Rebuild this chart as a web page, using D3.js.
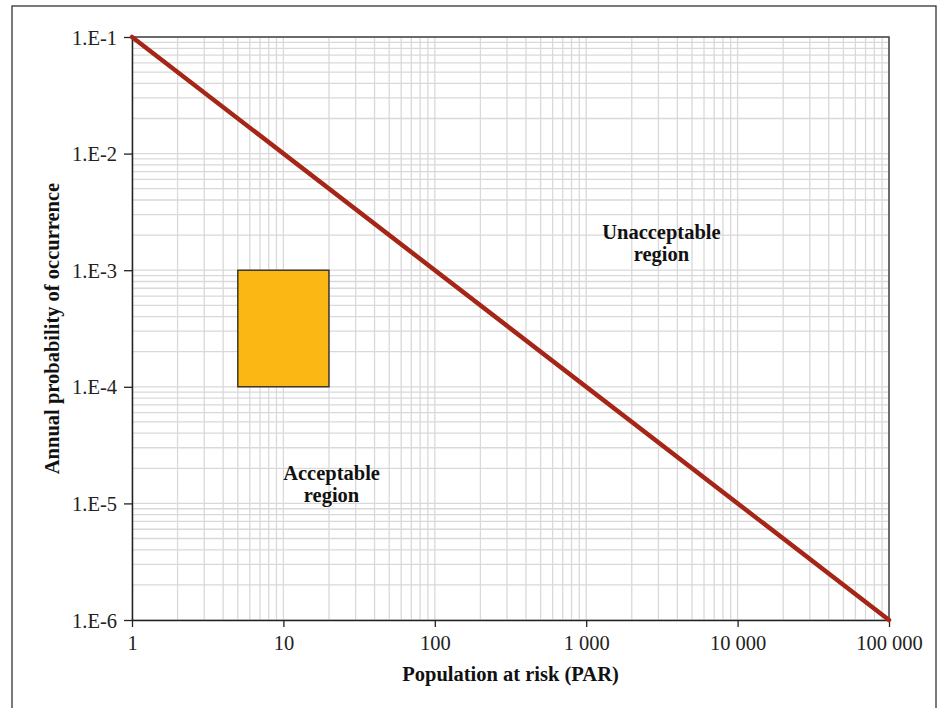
<!DOCTYPE html>
<html>
<head>
<meta charset="utf-8">
<script src="https://cdn.jsdelivr.net/npm/d3@7"></script>
<style>
  body { margin: 0; background: #fff; }
  svg { display: block; font-family: "Liberation Serif", "Times New Roman", serif; }
</style>
</head>
<body>
<svg id="chart" width="940" height="708"></svg>
<script>
// Tolerability criterion line: annual probability vs population at risk
const limitPAR = [1, 100000];
const limitProb = [1e-1, 1e-6];

// Shaded box (PAR range × probability range)
const boxPAR = [5, 20];
const boxProb = [1e-4, 1e-3];

const xTickValues = [1, 10, 100, 1000, 10000, 100000];
const xTickLabels = ["1", "10", "100", "1 000", "10 000", "100 000"];
const yTickValues = [1e-1, 1e-2, 1e-3, 1e-4, 1e-5, 1e-6];
const yTickLabels = ["1.E-1", "1.E-2", "1.E-3", "1.E-4", "1.E-5", "1.E-6"];

const regionLabels = [
  { lines: ["Unacceptable", "region"], par: 3140, prob: 1.85e-3 },
  { lines: ["Acceptable", "region"], par: 20.8, prob: 1.59e-5 }
];

const svg = d3.select("#chart");
const margin = { left: 132, right: 51, top: 37, bottom: 88 };
const W = 940, H = 708;
const x = d3.scaleLog().domain([1, 100000]).range([margin.left, W - margin.right]);
const y = d3.scaleLog().domain([1e-6, 1e-1]).range([H - margin.bottom, margin.top]);

// outer frame
svg.append("rect")
  .attr("x", 12).attr("y", 6).attr("width", 924).attr("height", 720)
  .attr("fill", "none").attr("stroke", "#333").attr("stroke-width", 1.3);

// minor + major grid
const gridX = [];
for (let e = 0; e < 5; e++) for (let k = 1; k <= 9; k++) gridX.push(k * Math.pow(10, e));
gridX.push(100000);
const gridY = [];
for (let e = -6; e < -1; e++) for (let k = 1; k <= 9; k++) gridY.push(k * Math.pow(10, e));
gridY.push(1e-1);

const grid = svg.append("g").attr("stroke", "#d9d9d9").attr("stroke-width", 1.3);
grid.selectAll("line.gx").data(gridX).join("line").attr("class", "gx")
  .attr("x1", d => x(d)).attr("x2", d => x(d))
  .attr("y1", y(1e-6)).attr("y2", y(1e-1));
grid.selectAll("line.gy").data(gridY).join("line").attr("class", "gy")
  .attr("y1", d => y(d)).attr("y2", d => y(d))
  .attr("x1", x(1)).attr("x2", x(100000));

// plot border (top/right)
svg.append("path")
  .attr("d", `M${x(1)},${y(1e-1)}H${x(100000)}V${y(1e-6)}`)
  .attr("fill", "none").attr("stroke", "#444").attr("stroke-width", 1.5);

// shaded box
svg.append("rect")
  .attr("x", x(boxPAR[0])).attr("y", y(boxProb[1]))
  .attr("width", x(boxPAR[1]) - x(boxPAR[0]))
  .attr("height", y(boxProb[0]) - y(boxProb[1]))
  .attr("fill", "#fbb714").attr("stroke", "#222").attr("stroke-width", 1.3);

// axes
const xAxis = d3.axisBottom(x).tickValues(xTickValues)
  .tickFormat((d, i) => xTickLabels[i]).tickSize(7).tickSizeOuter(0).tickPadding(8);
const yAxis = d3.axisLeft(y).tickValues(yTickValues)
  .tickFormat((d, i) => yTickLabels[i]).tickSize(8).tickSizeOuter(0).tickPadding(7);

const gx = svg.append("g").attr("transform", `translate(0,${y(1e-6)})`).call(xAxis);
const gy = svg.append("g").attr("transform", `translate(${x(1)},0)`).call(yAxis);
[gx, gy].forEach(g => {
  g.select(".domain").attr("stroke", "#222").attr("stroke-width", 1.5);
  g.selectAll(".tick line").attr("stroke", "#222").attr("stroke-width", 1.3);
  g.selectAll("text").attr("fill", "#222").style("font-size", "20.5px")
    .style("font-family", "'Liberation Serif', serif");
});
gy.selectAll("text").attr("dy", "0.35em");

// criterion line
svg.append("path")
  .datum(limitPAR.map((p, i) => [p, limitProb[i]]))
  .attr("d", d3.line().x(d => x(d[0])).y(d => y(d[1])))
  .attr("fill", "none").attr("stroke", "#a52616").attr("stroke-width", 4.5)
  .attr("stroke-linecap", "round");

// region labels
regionLabels.forEach(r => {
  const t = svg.append("text")
    .attr("x", x(r.par)).attr("y", y(r.prob))
    .attr("text-anchor", "middle").attr("font-weight", "bold")
    .attr("font-size", 20.5).attr("fill", "#111");
  r.lines.forEach((l, i) => t.append("tspan").attr("x", x(r.par)).attr("dy", i === 0 ? 0 : 22).text(l));
});

// axis titles
svg.append("text")
  .attr("x", (x(1) + x(100000)) / 2).attr("y", 681)
  .attr("text-anchor", "middle").attr("font-weight", "bold").attr("font-size", 20.5)
  .attr("fill", "#111").text("Population at risk (PAR)");

svg.append("text")
  .attr("transform", `translate(59,${(y(1e-1) + y(1e-6)) / 2}) rotate(-90)`)
  .attr("text-anchor", "middle").attr("font-weight", "bold").attr("font-size", 20.5)
  .attr("fill", "#111").text("Annual probability of occurrence");
</script>
</body>
</html>
